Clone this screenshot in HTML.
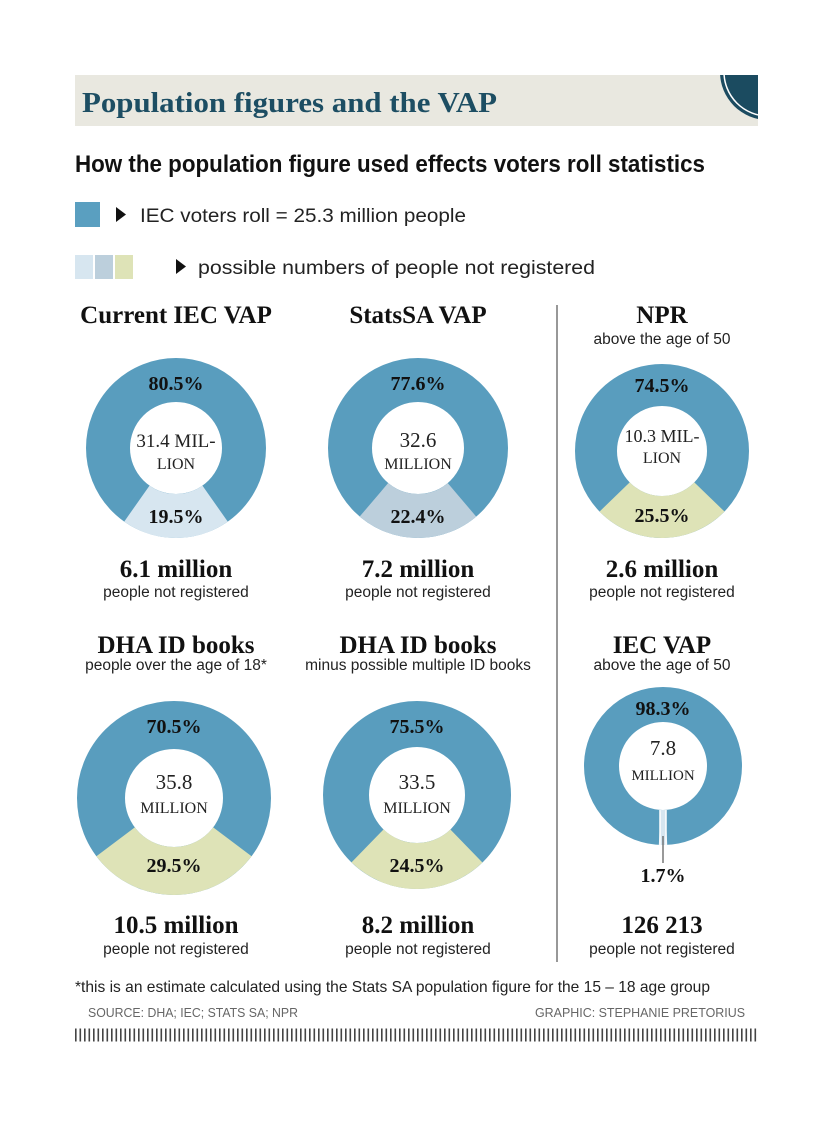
<!DOCTYPE html>
<html><head><meta charset="utf-8"><style>
body{margin:0;background:#fff;width:833px;height:1119px;overflow:hidden}
text{font-family:"Liberation Sans",sans-serif}
.ser text,text.ser{font-family:"Liberation Serif",serif}
</style></head><body>
<svg width="833" height="1119" viewBox="0 0 833 1119" xmlns="http://www.w3.org/2000/svg">
<defs><clipPath id="hc"><rect x="75" y="75" width="683" height="51"/></clipPath></defs>
<rect x="75" y="75" width="683" height="51" fill="#e9e8e0"/>
<g clip-path="url(#hc)"><circle cx="768" cy="72" r="48" fill="#1b4b60"/><circle cx="768" cy="72" r="44" fill="none" stroke="#fff" stroke-width="1.5"/></g>
<text x="82" y="112" class="ser" font-weight="bold" font-size="28" fill="#1d4e63" textLength="415" lengthAdjust="spacingAndGlyphs">Population figures and the VAP</text>
<text x="75" y="172" font-weight="bold" font-size="24" fill="#111" textLength="630" lengthAdjust="spacingAndGlyphs">How the population figure used effects voters roll statistics</text>
<rect x="75" y="202" width="25" height="25" fill="#5a9fc0"/>
<path d="M116 207 L126 214.5 L116 222Z" fill="#111"/>
<text x="140" y="222" font-size="19" fill="#222" textLength="326" lengthAdjust="spacingAndGlyphs">IEC voters roll = 25.3 million people</text>
<rect x="75" y="255" width="18" height="24" fill="#d7e6f0"/>
<rect x="95" y="255" width="18" height="24" fill="#bccfdc"/>
<rect x="115" y="255" width="18" height="24" fill="#dee3b7"/>
<path d="M176 259 L186 266.5 L176 274Z" fill="#111"/>
<text x="198" y="274" font-size="19" fill="#222" textLength="397" lengthAdjust="spacingAndGlyphs">possible numbers of people not registered</text>
<line x1="557" y1="305" x2="557" y2="962" stroke="#777" stroke-width="1.5"/>

<g class="ser" font-weight="bold" font-size="25" fill="#111" text-anchor="middle">
<text x="176" y="323">Current IEC VAP</text>
<text x="418" y="323">StatsSA VAP</text>
<text x="662" y="323">NPR</text>
<text x="176" y="653">DHA ID books</text>
<text x="418" y="653">DHA ID books</text>
<text x="662" y="653">IEC VAP</text>
<text x="176" y="577">6.1 million</text>
<text x="418" y="577">7.2 million</text>
<text x="662" y="577">2.6 million</text>
<text x="176" y="933">10.5 million</text>
<text x="418" y="933">8.2 million</text>
<text x="662" y="933">126 213</text>
</g>
<g font-size="15.5" fill="#222" text-anchor="middle">
<text x="662" y="344">above the age of 50</text>
<text x="176" y="670">people over the age of 18*</text>
<text x="418" y="670">minus possible multiple ID books</text>
<text x="662" y="670">above the age of 50</text>
<text x="176" y="597">people not registered</text>
<text x="418" y="597">people not registered</text>
<text x="662" y="597">people not registered</text>
<text x="176" y="954">people not registered</text>
<text x="418" y="954">people not registered</text>
<text x="662" y="954">people not registered</text>
</g>

<g transform="translate(176,448)">
<circle r="68" fill="none" stroke="#599dbe" stroke-width="44"/>
<circle r="68" fill="none" stroke="#d7e6f0" stroke-width="44" stroke-dasharray="83.3 1000" transform="rotate(54.9)"/>
</g>
<g transform="translate(418,448)">
<circle r="68" fill="none" stroke="#599dbe" stroke-width="44"/>
<circle r="68" fill="none" stroke="#bccfdc" stroke-width="44" stroke-dasharray="95.7 1000" transform="rotate(49.7)"/>
</g>
<g transform="translate(662,451)">
<circle r="66" fill="none" stroke="#599dbe" stroke-width="42"/>
<circle r="66" fill="none" stroke="#dee3b7" stroke-width="42" stroke-dasharray="105.7 1000" transform="rotate(44.1)"/>
</g>
<g transform="translate(174,798)">
<circle r="73" fill="none" stroke="#599dbe" stroke-width="48"/>
<circle r="73" fill="none" stroke="#dee3b7" stroke-width="48" stroke-dasharray="135.3 1000" transform="rotate(36.9)"/>
</g>
<g transform="translate(417,795)">
<circle r="71" fill="none" stroke="#599dbe" stroke-width="46"/>
<circle r="71" fill="none" stroke="#dee3b7" stroke-width="46" stroke-dasharray="109.3 1000" transform="rotate(45.9)"/>
</g>
<g transform="translate(663,766)">
<circle r="61.5" fill="none" stroke="#599dbe" stroke-width="35"/>
<circle r="61.5" fill="none" stroke="#d7e6f0" stroke-width="35" stroke-dasharray="6.6 1000" transform="rotate(86.9)"/>
<line x1="-3" y1="44" x2="-3" y2="79" stroke="#fff" stroke-width="1.5"/>
<line x1="3" y1="44" x2="3" y2="79" stroke="#fff" stroke-width="1.5"/>
<line x1="0" y1="70" x2="0" y2="97" stroke="#555" stroke-width="1.2"/>
</g>

<g class="ser" font-weight="bold" font-size="20" fill="#111" text-anchor="middle">
<text x="176" y="390">80.5%</text><text x="176" y="523">19.5%</text>
<text x="418" y="390">77.6%</text><text x="418" y="523">22.4%</text>
<text x="662" y="392">74.5%</text><text x="662" y="522">25.5%</text>
<text x="174" y="733">70.5%</text><text x="174" y="872">29.5%</text>
<text x="417" y="733">75.5%</text><text x="417" y="872">24.5%</text>
<text x="663" y="715">98.3%</text><text x="663" y="882">1.7%</text>
</g>
<g class="ser" fill="#222" text-anchor="middle">
<text x="176" y="447" font-size="19">31.4 MIL-</text><text x="176" y="469" font-size="16">LION</text>
<text x="418" y="447" font-size="21">32.6</text><text x="418" y="469" font-size="16">MILLION</text>
<text x="662" y="442" font-size="18">10.3 MIL-</text><text x="662" y="463" font-size="16">LION</text>
<text x="174" y="789" font-size="21">35.8</text><text x="174" y="813" font-size="16">MILLION</text>
<text x="417" y="789" font-size="21">33.5</text><text x="417" y="813" font-size="16">MILLION</text>
<text x="663" y="755" font-size="21">7.8</text><text x="663" y="780" font-size="15">MILLION</text>
</g>

<text x="75" y="992" font-size="16" fill="#222" textLength="635" lengthAdjust="spacingAndGlyphs">*this is an estimate calculated using the Stats SA population figure for the 15 – 18 age group</text>
<text x="88" y="1017" font-size="13" fill="#666" textLength="210" lengthAdjust="spacingAndGlyphs">SOURCE: DHA; IEC; STATS SA; NPR</text>
<text x="745" y="1017" font-size="13" fill="#666" text-anchor="end" textLength="210" lengthAdjust="spacingAndGlyphs">GRAPHIC: STEPHANIE PRETORIUS</text>
<line x1="75" y1="1035" x2="758" y2="1035" stroke="#444" stroke-width="13" stroke-dasharray="1.6 2.9"/>
</svg>
</body></html>
